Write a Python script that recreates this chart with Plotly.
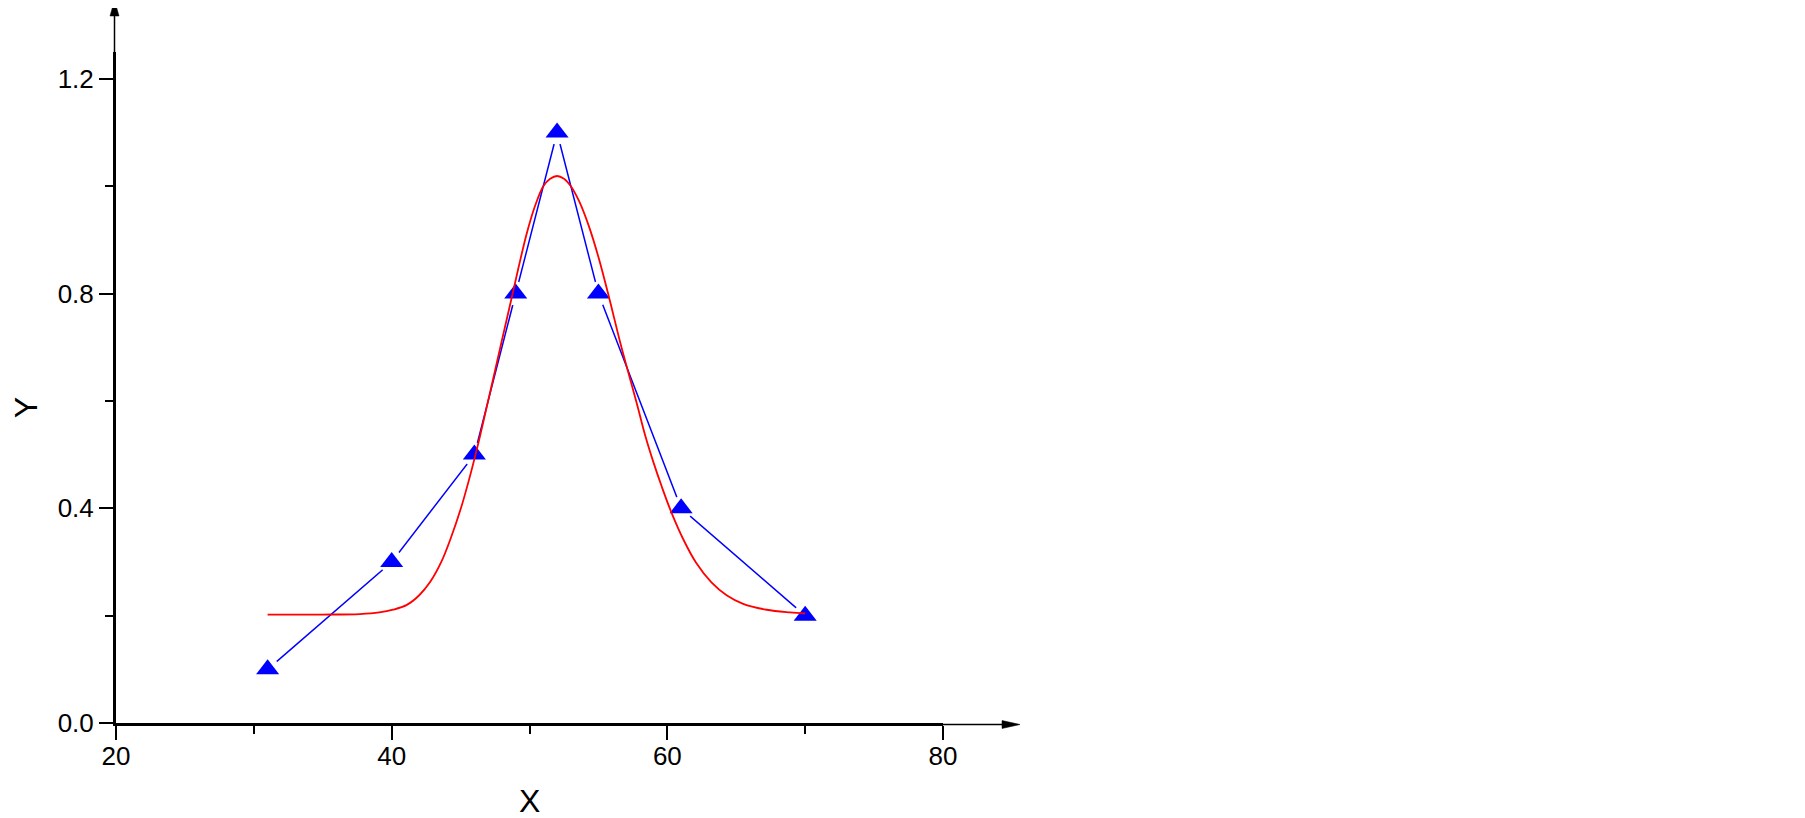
import plotly.graph_objects as go

# ---- data ----
x_data = [31, 40, 46, 49, 52, 55, 61, 70]
y_data = [0.1, 0.3, 0.5, 0.8, 1.1, 0.8, 0.4, 0.2]

fit_x = [31.0, 35.0, 37.7, 39.1, 40.1, 41.1, 42.0, 42.8, 43.6, 44.3, 45.0, 45.6,
         46.2, 46.8, 47.4, 48.0, 48.6, 49.2, 49.8, 50.4, 51.0, 51.5, 52.0,
         52.5, 53.0, 53.6, 54.3, 55.0, 55.8, 56.6, 57.2, 57.8, 58.4, 59.0, 59.6,
         60.3, 61.2, 62.1, 63.2, 64.3, 65.5, 67.2, 68.9, 70.0]
fit_y = [0.202, 0.202, 0.203, 0.206, 0.211, 0.220, 0.238, 0.263, 0.300, 0.345, 0.398, 0.452,
         0.512, 0.578, 0.645, 0.713, 0.780, 0.848, 0.912, 0.963, 1.000, 1.014, 1.019,
         1.014, 1.000, 0.972, 0.926, 0.868, 0.790, 0.707, 0.650, 0.594, 0.535, 0.485, 0.440,
         0.392, 0.340, 0.298, 0.262, 0.238, 0.222, 0.211, 0.206, 0.204]

x_major = [20, 40, 60, 80]
x_minor = [30, 50, 70]
y_major = [0.0, 0.4, 0.8, 1.2]
y_major_text = ["0.0", "0.4", "0.8", "1.2"]
y_minor = [0.2, 0.6, 1.0]

FONT = "Liberation Sans, Arial, sans-serif"

fig = go.Figure()

# blue connecting line
fig.add_trace(go.Scatter(x=x_data, y=y_data, mode="lines",
                         line=dict(color="#0000FF", width=1.5),
                         hoverinfo="skip", showlegend=False))
# white halo so the line stops short of each marker
fig.add_trace(go.Scatter(x=x_data, y=y_data, mode="markers",
                         marker=dict(symbol="circle", size=24, color="white",
                                     line=dict(width=0)),
                         hoverinfo="skip", showlegend=False))
# blue triangle markers
fig.add_trace(go.Scatter(x=x_data, y=y_data, mode="markers",
                         marker=dict(symbol="triangle-up", size=20, color="#0000FF",
                                     line=dict(width=0)),
                         showlegend=False))
# red fitted curve
fig.add_trace(go.Scatter(x=fit_x, y=fit_y, mode="lines",
                         line=dict(color="#FF0000", width=1.8, shape="spline", smoothing=1.0),
                         showlegend=False))

axis_common = dict(
    showgrid=False, zeroline=False, showline=True, linewidth=3, linecolor="black",
    ticks="outside", ticklen=14, tickwidth=2, tickcolor="black",
    tickfont=dict(family=FONT, size=26, color="black"),
)

fig.update_xaxes(range=[20, 80], tickmode="array", tickvals=x_major,
                 ticklabelstandoff=-6,
                 minor=dict(tickmode="array", tickvals=x_minor, ticks="outside",
                            ticklen=8, tickwidth=2, tickcolor="black", showgrid=False),
                 **axis_common)
fig.update_yaxes(range=[0, 1.25], tickmode="array", tickvals=y_major,
                 ticktext=y_major_text, ticklabelstandoff=0,
                 minor=dict(tickmode="array", tickvals=y_minor, ticks="outside",
                            ticklen=8, tickwidth=2, tickcolor="black", showgrid=False),
                 **axis_common)

shapes = [
    # y-axis thin extension + arrow head
    dict(type="line", xref="paper", yref="paper", xsizemode="pixel", ysizemode="pixel",
         xanchor=0, yanchor=1, x0=-1.5, x1=-1.5, y0=0, y1=40,
         line=dict(color="black", width=1.5)),
    dict(type="path", xref="paper", yref="paper", xsizemode="pixel", ysizemode="pixel",
         xanchor=0, yanchor=1, path="M-1.5,52 L-6,36 L3,36 Z",
         fillcolor="black", line=dict(color="black", width=0.5)),
    # x-axis thin extension + arrow head
    dict(type="line", xref="paper", yref="paper", xsizemode="pixel", ysizemode="pixel",
         xanchor=1, yanchor=0, x0=0, x1=64, y0=-1.5, y1=-1.5,
         line=dict(color="black", width=1.5)),
    dict(type="path", xref="paper", yref="paper", xsizemode="pixel", ysizemode="pixel",
         xanchor=1, yanchor=0, path="M77,-1.5 L59,2.5 L59,-5.5 Z",
         fillcolor="black", line=dict(color="black", width=0.5)),
]

annotations = [
    dict(text="X", xref="paper", yref="paper", x=0.5, y=0, yshift=-78,
         xanchor="center", yanchor="middle", showarrow=False,
         font=dict(family=FONT, size=32, color="black")),
    dict(text="Y", xref="paper", yref="paper", x=0, y=0.469, xshift=-90,
         xanchor="center", yanchor="middle", textangle=-90, showarrow=False,
         font=dict(family=FONT, size=32, color="black")),
]

fig.update_layout(
    width=1797, height=810,
    margin=dict(l=108, r=862, t=44, b=95),
    paper_bgcolor="white", plot_bgcolor="white",
    shapes=shapes, annotations=annotations, showlegend=False,
)

fig.write_html("out.html")
